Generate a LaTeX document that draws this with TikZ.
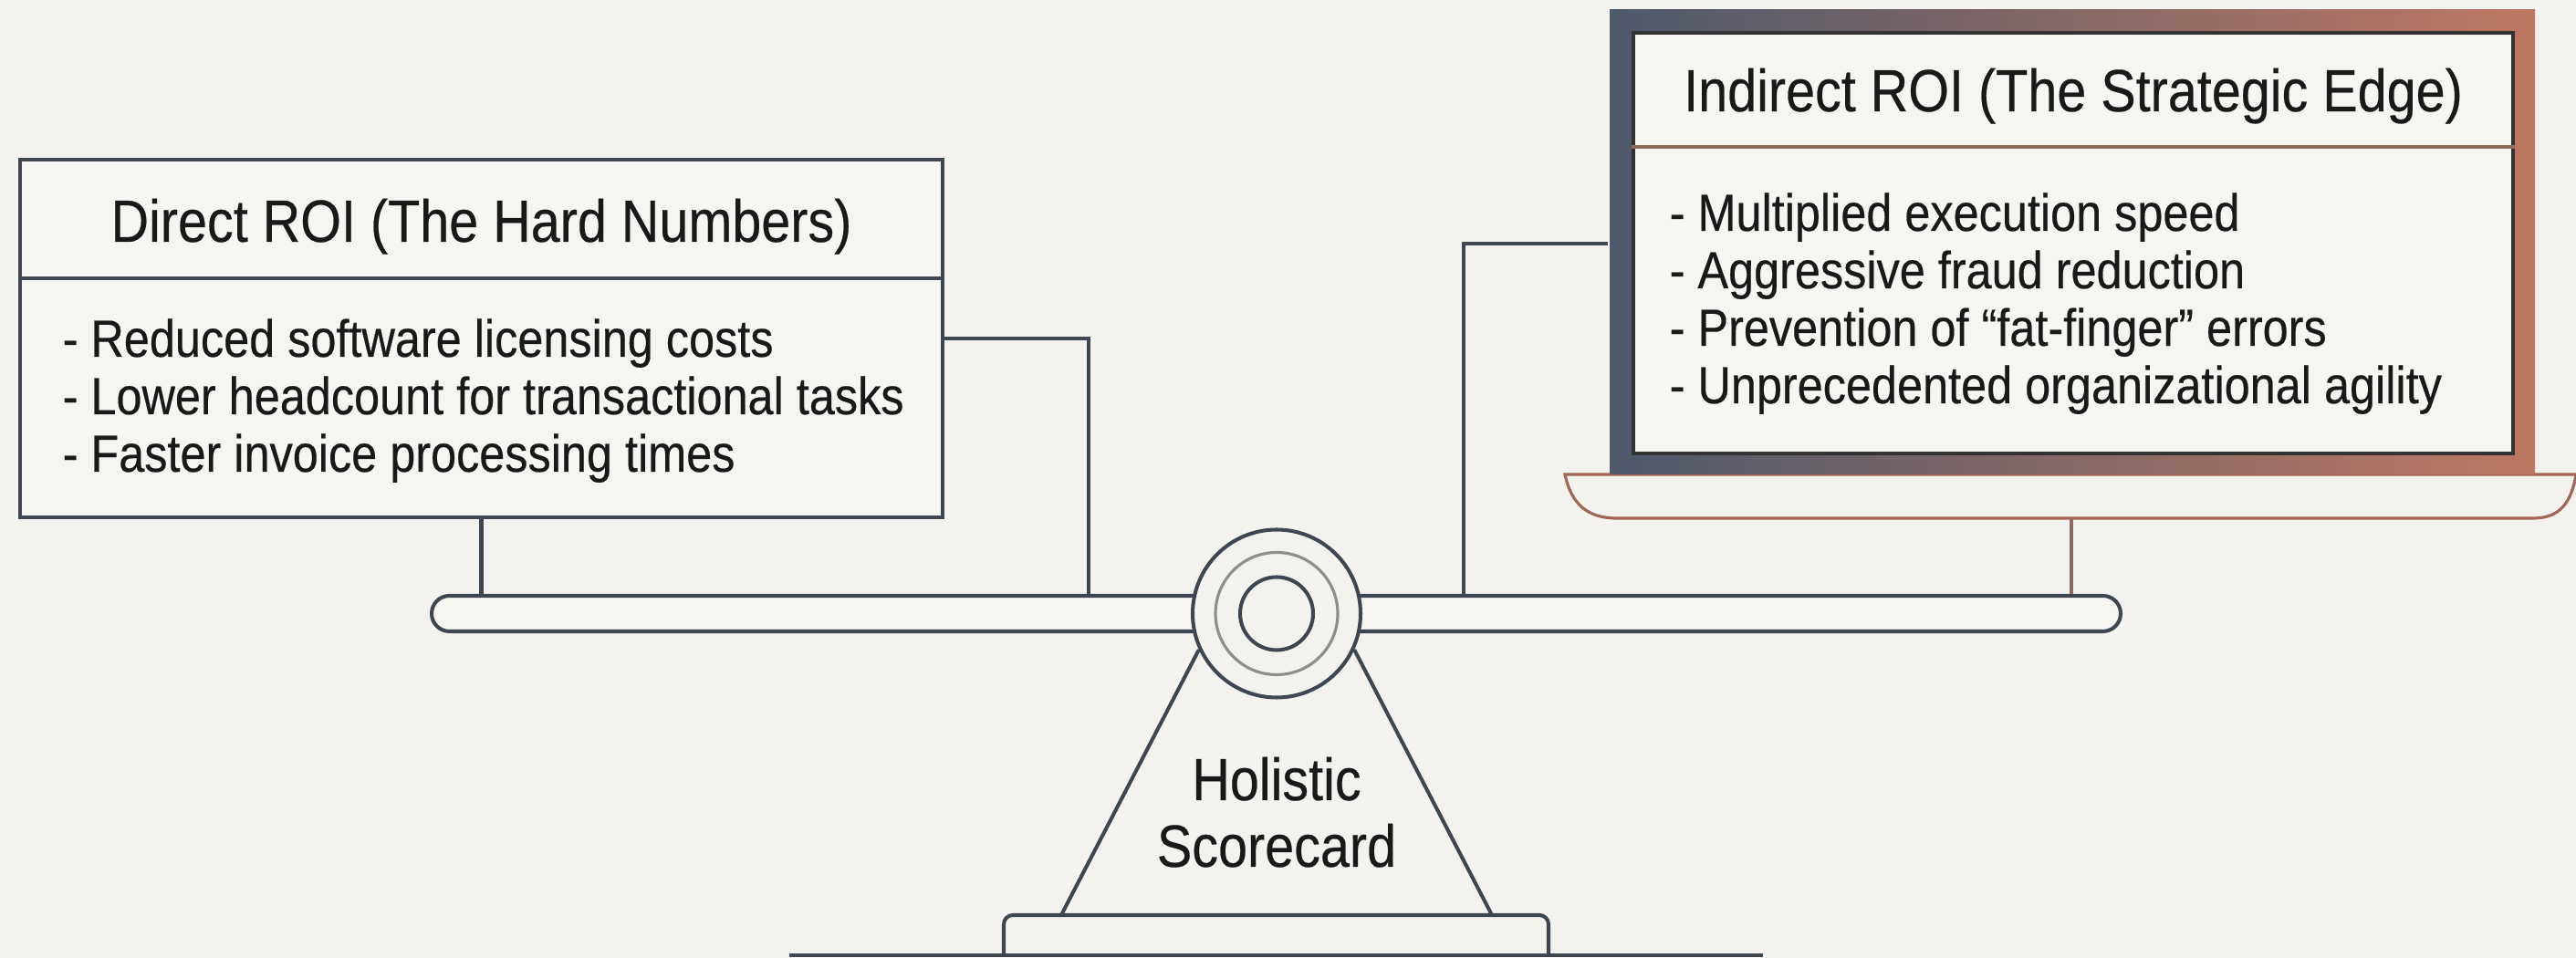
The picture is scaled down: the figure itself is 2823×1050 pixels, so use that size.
\documentclass[tikz,border=0pt]{standalone}
\usepackage{fontspec}
\setmainfont{Liberation Sans}[FakeStretch=0.88, FakeBold=0.35]
\usetikzlibrary{positioning}
\definecolor{paper}{HTML}{F3F2EE}
\definecolor{card}{HTML}{F6F5F2}
\definecolor{ink}{HTML}{3E4652}
\definecolor{slate}{HTML}{4E596A}
\definecolor{copper}{HTML}{BE7863}
\definecolor{rim}{HTML}{8E8E8E}
\definecolor{rust}{HTML}{8C6A5E}
\tikzset{panel/.style={rectangle, draw=ink, fill=card, line width=1.15pt, inner sep=0pt}}
\tikzset{ring/.style={circle, draw=ink, line width=1.15pt, inner sep=0pt}}
\tikzset{link/.style={draw=ink, line width=1.15pt}}
\tikzset{heading/.style={font=\fontsize{18.6}{21}\selectfont, text=black!90, anchor=base, inner sep=0pt}}
\tikzset{item/.style={font=\fontsize{16.3}{18}\selectfont, text=black!90, anchor=base west, inner sep=0pt}}
\tikzset{tray/.style={draw=copper!85!black, line width=0.9pt}}

\begin{document}
\begin{tikzpicture}[x=0.1mm, y=0.1mm]
\fill[paper] (0,0) rectangle (2823,1050);
\useasboundingbox (0,0) rectangle (2823,1050);

\coordinate (lhook) at (1193,679);
\coordinate (rhook) at (1604,783);
\coordinate (panbase) at (2270,482);
\coordinate (footl) at (1163,47);
\coordinate (footr) at (1635,47);

\draw[tray] (1715,530) .. controls (1722,497) and (1740,482) .. (1772,482) -- (2776,482)
  .. controls (2806,482) and (2818,500) .. (2823,530) -- cycle;

\node[panel, minimum width=101.1mm, minimum height=39.2mm] (direct) at (527.5,679) {};
\node[panel, draw=none, minimum width=101.4mm, minimum height=50.9mm,
  left color=slate, right color=copper] (indirect) at (2271,784.5) {};
\node[panel, draw=black!80, line width=1.3pt, minimum width=96.4mm, minimum height=46.1mm] (indirectcard) at (2272,783.5) {};
\node[panel, rounded corners=1.95mm, minimum width=185.1mm, minimum height=3.9mm] (beam) at (1398.5,377.5) {};

\draw[link] (direct.east) -| (beam.north -| lhook);
\draw[link] (direct.south) -- (beam.north -| direct.south);
\draw[link] (indirect.west |- rhook) -| (beam.north -| rhook);
\draw[tray, draw=rust] (panbase) -- (beam.north -| panbase);

\draw[link] (direct.west |- 0,745) -- (direct.east |- 0,745);
\draw[tray, draw=rust, line width=1.1pt] (indirectcard.west |- 0,889) -- (indirectcard.east |- 0,889);

\node[heading] (directtitle) at (527.5,785) {Direct ROI (The Hard Numbers)};
\node[item] (d1) at (68,659) {- Reduced software licensing costs};
\node[item] (d2) at (68,596) {- Lower headcount for transactional tasks};
\node[item] (d3) at (68,533) {- Faster invoice processing times};

\node[heading] (indirecttitle) at (2272,928) {Indirect ROI (The Strategic Edge)};
\node[item] (i1) at (1829,797) {- Multiplied execution speed};
\node[item] (i2) at (1829,734) {- Aggressive fraud reduction};
\node[item] (i3) at (1829,671) {- Prevention of “fat-finger” errors};
\node[item] (i4) at (1829,608) {- Unprecedented organizational agility};

\node[ring, fill=paper, minimum size=18.4mm] (pivot) at (1399,377.5) {};
\node[ring, draw=rim, line width=0.9pt, minimum size=13.4mm] (pivotmid) at (pivot.center) {};
\node[ring, minimum size=8mm] (pivotcore) at (pivot.center) {};
\draw[link] (pivot.-155) -- (footl);
\draw[link] (pivot.-25) -- (footr);

\node[heading] (holistic) at (1399,173) {Holistic};
\node[heading] (scorecard) at (1399,100) {Scorecard};

\draw[link, rounded corners=1mm] (1100,3) |- (1697,47) -- (1697,3);
\draw[link, line width=1.3pt] (865,3) -- (1932,3);
\end{tikzpicture}
\end{document}
